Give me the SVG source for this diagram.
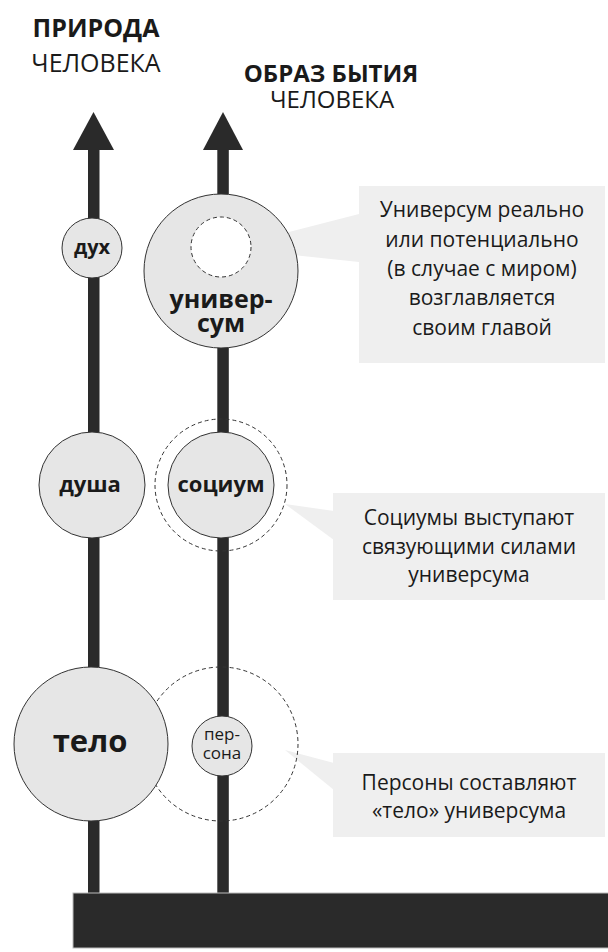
<svg xmlns="http://www.w3.org/2000/svg" width="608" height="952" viewBox="0 0 608 952">
<style>
text{font-family:"Open Sans","DejaVu Sans",sans-serif;fill:#1a1a1a;text-anchor:middle}
.b{font-weight:700}
.node{fill:#e6e6e6;stroke:#333;stroke-width:1}
.dash{fill:none;stroke:#333;stroke-width:1;stroke-dasharray:4 3}
.call{fill:#efefef}
.ct{font-size:21px}
.axis{fill:#2a2a2a}
</style>
<rect width="608" height="952" fill="#fff"/>
<g id="titles">
<text class="b" x="96" y="37" font-size="25">ПРИРОДА</text>
<text x="96" y="72" font-size="25">ЧЕЛОВЕКА</text>
<text class="b" x="331" y="82" font-size="24">ОБРАЗ БЫТИЯ</text>
<text x="332" y="108" font-size="24">ЧЕЛОВЕКА</text>
</g>
<g id="connectors">
<rect class="axis" x="88" y="148" width="11.5" height="746"/>
<polygon class="axis" points="93.5,112 73,150 114,150"/>
<rect class="axis" x="217.3" y="148" width="11.5" height="746"/>
<polygon class="axis" points="223,112 203,150 243,150"/>
</g>
<g id="base">
<rect x="73" y="893" width="536" height="55" fill="#2a2a2a" stroke="#bbb" stroke-width="1"/>
</g>
<g id="callout-universum">
<polygon class="call" points="227,248 359,214 359,262"/>
<rect class="call" x="359" y="186" width="246" height="177"/>
<text class="ct" x="482" y="217">Универсум реально</text>
<text class="ct" x="482" y="247">или потенциально</text>
<text class="ct" x="482" y="276">(в случае с миром)</text>
<text class="ct" x="482" y="305">возглавляется</text>
<text class="ct" x="482" y="335">своим главой</text>
</g>
<g id="callout-socium">
<polygon class="call" points="285,504 334,511 334,540"/>
<rect class="call" x="333" y="493" width="272" height="107"/>
<text class="ct" x="469" y="525">Социумы выступают</text>
<text class="ct" x="469" y="554">связующими силами</text>
<text class="ct" x="469" y="582">универсума</text>
</g>
<g id="callout-persona">
<polygon class="call" points="285,750 334,763 334,790"/>
<rect class="call" x="333" y="753" width="272" height="84"/>
<text class="ct" x="469" y="790">Персоны составляют</text>
<text class="ct" x="469" y="818">«тело» универсума</text>
</g>
<g id="node-persona">
<circle class="dash" cx="221" cy="744" r="77"/>
<circle class="node" cx="222" cy="746" r="30"/>
<text x="222" y="740" font-size="17">пер-</text>
<text x="222" y="759" font-size="17">сона</text>
</g>
<g id="node-dukh">
<circle class="node" cx="92" cy="248" r="30"/>
<text class="b" x="92" y="254" font-size="20">дух</text>
</g>
<g id="node-dusha">
<circle class="node" cx="92" cy="485" r="53"/>
<text class="b" x="90" y="492" font-size="22">душа</text>
</g>
<g id="node-telo">
<circle class="node" cx="91" cy="744" r="77"/>
<text class="b" x="90" y="752" font-size="31">тело</text>
</g>
<g id="node-universum">
<circle class="node" cx="221" cy="271" r="77"/>
<circle cx="221" cy="247" r="30" fill="#fff" stroke="#333" stroke-width="1" stroke-dasharray="4 3"/>
<text class="b" x="221" y="308" font-size="25">универ-</text>
<text class="b" x="221" y="332" font-size="25">сум</text>
</g>
<g id="node-socium">
<circle class="dash" cx="221" cy="485" r="66"/>
<circle class="node" cx="221" cy="485" r="53"/>
<text class="b" x="221" y="492" font-size="22">социум</text>
</g>
</svg>
